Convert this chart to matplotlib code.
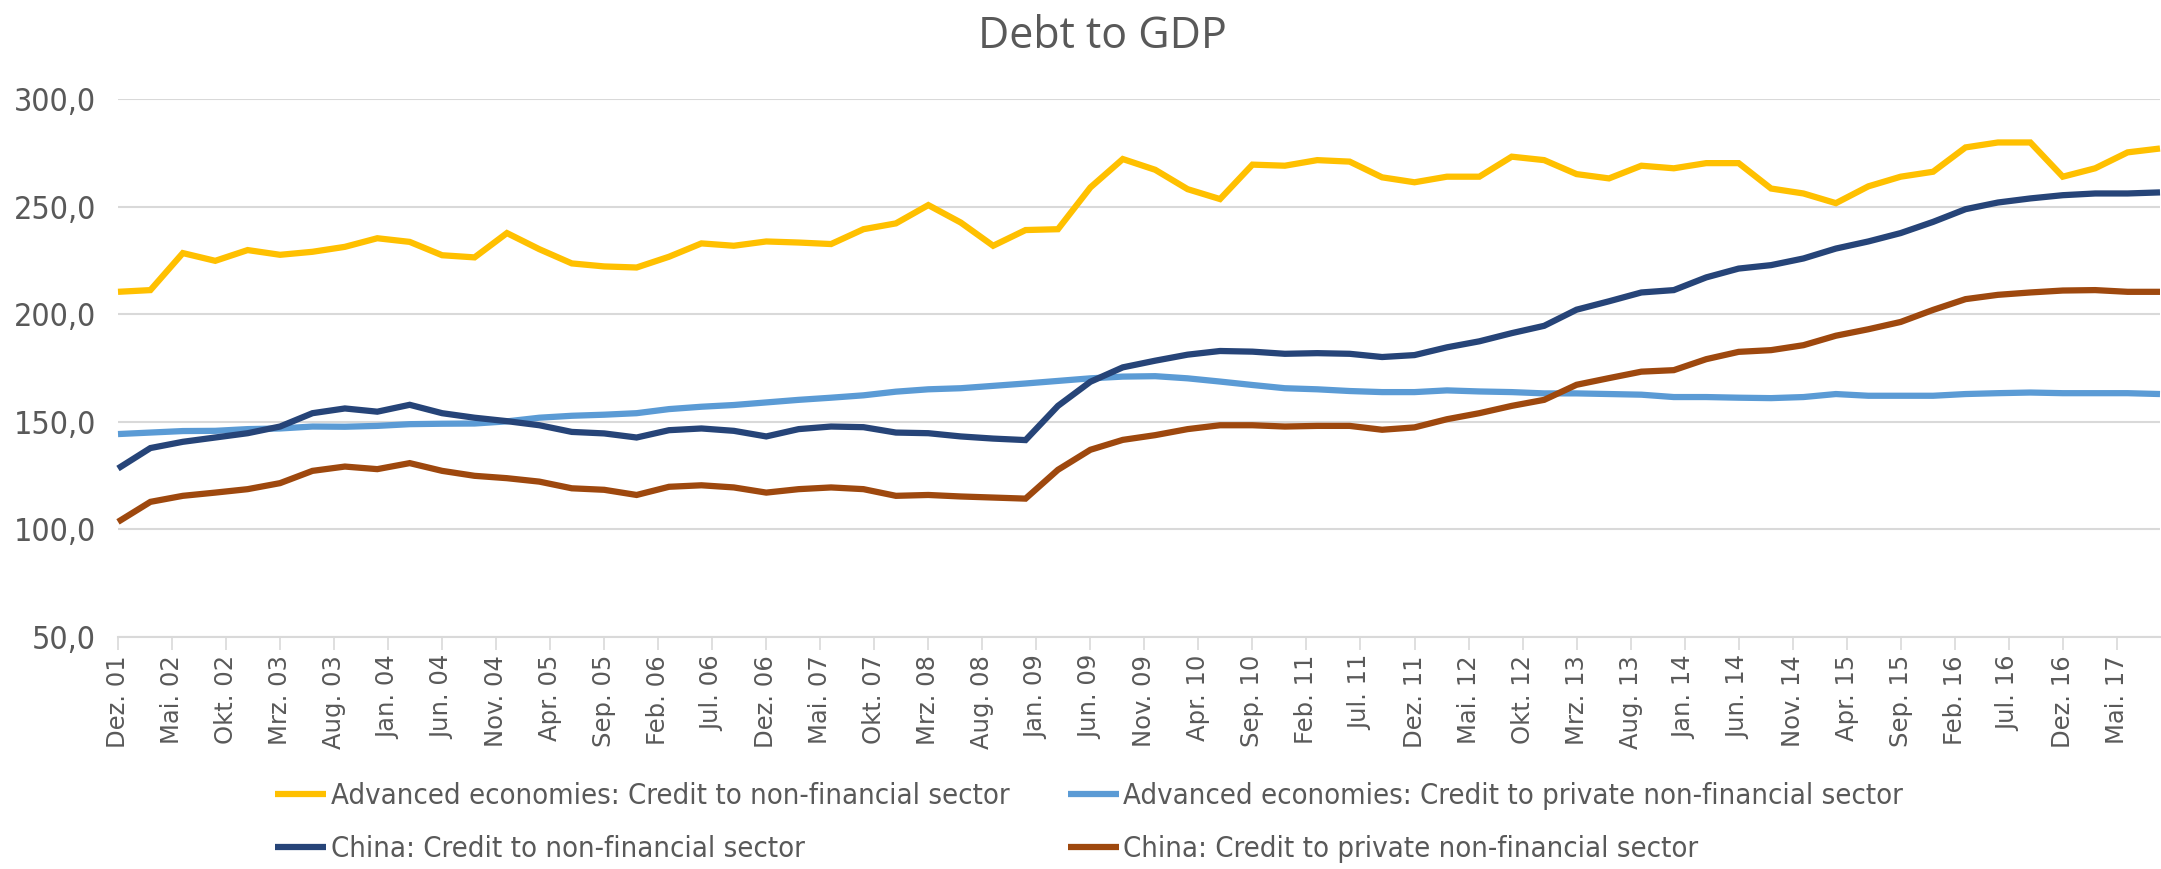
import numpy as np
import matplotlib
matplotlib.use("Agg")
import matplotlib.pyplot as plt
from matplotlib import font_manager
from matplotlib.ticker import FuncFormatter


# quarterly observations, first one Dez. 01, last one Sep. 17 (months since Dez. 01 = 3 * index)
adv_total = [210.4, 211.2, 228.4, 224.8, 229.8, 227.6, 229.0, 231.3, 235.3, 233.6,
             227.4, 226.4, 237.7, 230.2, 223.6, 222.2, 221.7, 226.7, 232.9, 231.8,
             233.8, 233.3, 232.6, 239.5, 242.2, 250.7, 242.6, 231.8, 239.1, 239.5,
             258.9, 272.1, 267.1, 258.1, 253.5, 269.5, 269.0, 271.6, 270.9, 263.6,
             261.3, 263.9, 263.9, 273.2, 271.6, 265.1, 263.1, 269.0, 267.8, 270.2,
             270.2, 258.4, 256.1, 251.6, 259.4, 263.9, 266.2, 277.5, 279.8, 279.8,
             263.9, 267.8, 275.2, 277.0]
adv_private = [144.3, 145.0, 145.7, 145.8, 146.6, 146.9, 147.8, 147.7, 148.1, 148.9,
               149.1, 149.2, 150.2, 151.9, 152.8, 153.3, 154.0, 155.9, 157.0, 157.8,
               159.0, 160.2, 161.2, 162.3, 164.0, 165.1, 165.6, 166.7, 167.8, 169.0,
               170.2, 171.0, 171.2, 170.2, 168.7, 167.1, 165.6, 165.1, 164.3, 163.8,
               163.8, 164.6, 164.1, 163.8, 163.2, 163.2, 162.9, 162.6, 161.5, 161.5,
               161.2, 161.0, 161.5, 162.9, 162.1, 162.1, 162.1, 162.9, 163.3, 163.6,
               163.3, 163.3, 163.3, 162.9]
china_total = [128.3, 137.8, 140.7, 142.7, 144.7, 147.8, 154.0, 156.2, 154.7, 157.9,
               154.0, 151.9, 150.3, 148.4, 145.3, 144.6, 142.7, 146.1, 146.9, 145.8,
               143.2, 146.6, 147.8, 147.5, 145.0, 144.7, 143.2, 142.2, 141.5, 157.4,
               168.6, 175.3, 178.4, 181.2, 182.9, 182.6, 181.6, 181.9, 181.6, 180.1,
               181.0, 184.6, 187.4, 191.2, 194.6, 202.1, 206.0, 210.1, 211.2, 217.1,
               221.2, 222.8, 225.9, 230.5, 233.8, 237.7, 242.9, 248.8, 251.9, 253.8,
               255.3, 256.1, 256.1, 256.6]
china_private = [103.5, 112.8, 115.6, 117.1, 118.7, 121.5, 127.2, 129.2, 128.0, 130.8,
                 127.2, 124.9, 123.8, 122.2, 119.1, 118.4, 116.0, 119.8, 120.5, 119.5,
                 117.1, 118.7, 119.5, 118.7, 115.6, 116.0, 115.3, 114.8, 114.3, 127.7,
                 137.0, 141.6, 143.8, 146.6, 148.4, 148.4, 147.8, 148.1, 148.1, 146.3,
                 147.4, 151.2, 154.0, 157.4, 160.2, 167.2, 170.3, 173.3, 174.0, 179.1,
                 182.5, 183.3, 185.6, 190.0, 193.0, 196.4, 202.0, 207.0, 209.0, 210.1,
                 211.0, 211.2, 210.4, 210.4]

# axis labels every 5 months
tick_labels = ["Dez. 01", "Mai. 02", "Okt. 02", "Mrz. 03", "Aug. 03", "Jan. 04", "Jun. 04",
               "Nov. 04", "Apr. 05", "Sep. 05", "Feb. 06", "Jul. 06", "Dez. 06", "Mai. 07",
               "Okt. 07", "Mrz. 08", "Aug. 08", "Jan. 09", "Jun. 09", "Nov. 09", "Apr. 10",
               "Sep. 10", "Feb. 11", "Jul. 11", "Dez. 11", "Mai. 12", "Okt. 12", "Mrz. 13",
               "Aug. 13", "Jan. 14", "Jun. 14", "Nov. 14", "Apr. 15", "Sep. 15", "Feb. 16",
               "Jul. 16", "Dez. 16", "Mai. 17"]

series = [
    ("Advanced economies: Credit to non-financial sector", adv_total, "#FFC000"),
    ("China: Credit to non-financial sector", china_total, "#264478"),
    ("Advanced economies: Credit to private non-financial sector", adv_private, "#5B9BD5"),
    ("China: Credit to private non-financial sector", china_private, "#9E480E"),
]

grey = "#595959"

# narrow font for legend / y labels (excel uses calibri); fall back on condensed dejavu
names = {f.name for f in font_manager.fontManager.ttflist}
if "Liberation Sans Narrow" in names:
    narrow = font_manager.FontProperties(family="Liberation Sans Narrow")
else:
    narrow = font_manager.FontProperties(family="DejaVu Sans", stretch="condensed")

fig = plt.figure(figsize=(21.61, 8.69), dpi=100)
ax = fig.add_axes([118 / 2161, 1 - 637 / 869, (2160 - 118) / 2161, (637 - 99) / 869])

months = np.arange(len(adv_total)) * 3
# draw order like the excel chart
for name, vals, col in [series[0], series[2], series[1], series[3]]:
    ax.plot(months, vals, color=col, lw=4.5, label=name, solid_joinstyle="miter",
            solid_capstyle="butt", clip_on=False)

ax.set_xlim(0, months[-1])
ax.set_ylim(50, 300)
ax.set_yticks([50, 100, 150, 200, 250, 300])
ax.yaxis.set_major_formatter(FuncFormatter(lambda v, p: f"{v:.1f}".replace(".", ",")))
ax.set_xticks(np.arange(len(tick_labels)) * 5)
ax.set_xticklabels(tick_labels, rotation=90, fontsize=17.5, color=grey, family="DejaVu Sans")

for lab in ax.get_yticklabels():
    lab.set_fontproperties(narrow)
    lab.set_fontsize(23)
    lab.set_color(grey)

ax.grid(axis="y", color="#D9D9D9", lw=1.5)
ax.set_axisbelow(True)
for s in ["top", "right", "left"]:
    ax.spines[s].set_visible(False)
ax.spines["bottom"].set_color("#D9D9D9")
ax.spines["bottom"].set_linewidth(1.5)
ax.tick_params(axis="y", length=0, pad=16)
ax.tick_params(axis="x", length=9, width=1.2, color="#D9D9D9", pad=4)

fig.text(0.51, 0.958, "Debt to GDP", ha="center", va="center", fontsize=31,
         color=grey, family="Open Sans")

handles, labels = ax.get_legend_handles_labels()
order = [0, 2, 1, 3]
leg_prop = narrow.copy()
leg_prop.set_size(21)
leg = fig.legend([handles[i] for i in order], [labels[i] for i in order],
                 loc="upper left", bbox_to_anchor=(255 / 2161, 1 - 762 / 869), ncol=2,
                 frameon=False, handlelength=1.75, handletextpad=0.15, columnspacing=2.0,
                 labelspacing=0.85, borderpad=0.2, prop=leg_prop)
for t in leg.get_texts():
    t.set_color(grey)

fig.savefig("out.png", dpi=100)
